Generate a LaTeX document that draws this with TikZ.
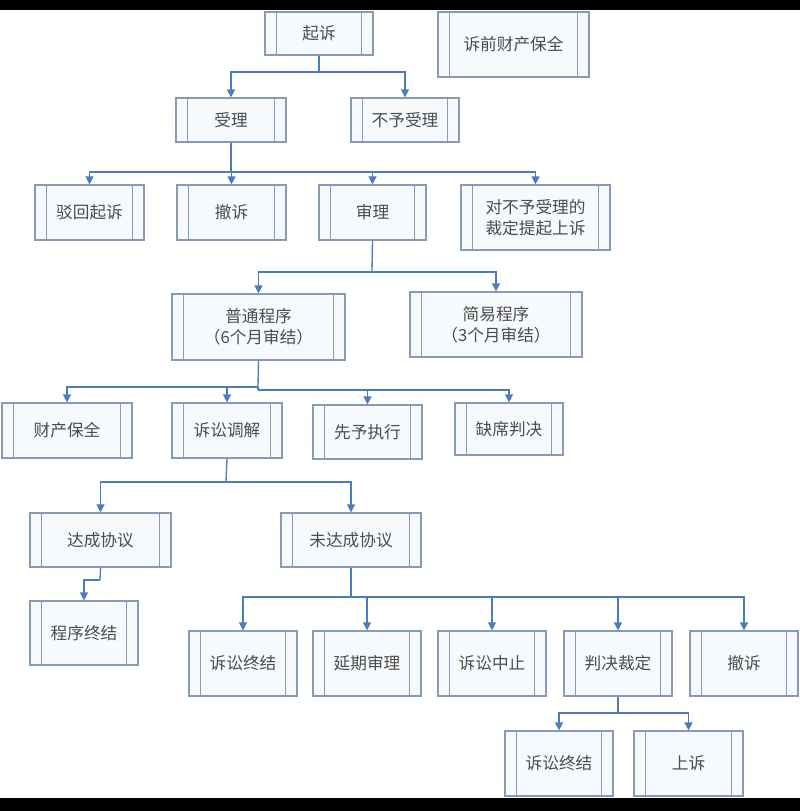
\documentclass[tikz,border=0pt]{standalone}
\usepackage{fontspec}
\setmainfont{Noto Sans CJK SC}
\definecolor{boxline}{RGB}{135,155,180}
\definecolor{arrowblue}{RGB}{75,125,190}
\definecolor{boxfill}{RGB}{247,250,253}
\tikzset{
  proc/.style={draw=boxline, line width=0.9pt, fill=boxfill, inner sep=0pt, align=center,
    font=\fontsize{12.5}{16}\selectfont\color{black!70},
    path picture={\draw[boxline, line width=0.8pt]
      ([xshift=8.5pt]path picture bounding box.north west) -- ([xshift=8.5pt]path picture bounding box.south west)
      ([xshift=-8.5pt]path picture bounding box.north east) -- ([xshift=-8.5pt]path picture bounding box.south east);}},
  conn/.style={draw=arrowblue, line width=1pt},
  arr/.style={conn, -{Triangle[width=6pt,length=6pt]}}
}
\usetikzlibrary{arrows.meta}
\newcommand{\pbox}[6]{\node[proc, minimum width={(#4-#2)*0.75pt}, minimum height={(#5-#3)*0.75pt}] (#1) at ({(#2+#4)/2},{(#3+#5)/2}) {#6};}
\begin{document}
\begin{tikzpicture}[x=0.75pt,y=0.75pt,yscale=-1,xscale=1]
  \useasboundingbox (0,0) rectangle (800,811);
  \fill[black] (0,0) rectangle (800,10);
  \fill[black] (0,798) rectangle (800,811);

  % boxes
  \pbox{qisu}{265}{12}{373}{55}{起诉}
  \pbox{baoquan}{438}{12}{589}{77}{诉前财产保全}
  \pbox{shouli}{176}{98}{286}{142}{受理}
  \pbox{bushouli}{351}{98}{459}{142}{不予受理}
  \pbox{bohui}{35}{185}{144}{240}{驳回起诉}
  \pbox{chesu}{177}{185}{286}{240}{撤诉}
  \pbox{shenli}{319}{185}{426}{240}{审理}
  \pbox{shangsu}{461}{185}{610}{250}{对不予受理的\\裁定提起上诉}
  \pbox{putong}{172}{294}{345}{360}{普通程序\\（6个月审结）}
  \pbox{jianyi}{410}{292}{582}{357}{简易程序\\（3个月审结）}
  \pbox{caichan}{2}{403}{132}{458}{财产保全}
  \pbox{tiaojie}{172}{403}{282}{458}{诉讼调解}
  \pbox{xianyu}{313}{405}{422}{459}{先予执行}
  \pbox{quexi}{455}{403}{563}{455}{缺席判决}
  \pbox{dacheng}{30}{513}{171}{567}{达成协议}
  \pbox{weida}{281}{513}{421}{567}{未达成协议}
  \pbox{zhongjie}{30}{601}{138}{665}{程序终结}
  \pbox{susongzj}{189}{631}{297}{696}{诉讼终结}
  \pbox{yanqi}{313}{631}{421}{696}{延期审理}
  \pbox{zhongzhi}{438}{631}{546}{696}{诉讼中止}
  \pbox{panjue}{564}{631}{672}{696}{判决裁定}
  \pbox{chesub}{690}{631}{798}{696}{撤诉}
  \pbox{zhongjieb}{505}{731}{613}{796}{诉讼终结}
  \pbox{shangsub}{634}{731}{743}{796}{上诉}

  % connectors
  \draw[conn] (qisu.south) -- (319,72) coordinate (b1);
  \draw[arr] (b1) -| (shouli.north);
  \draw[arr] (b1) -| (bushouli.north);
  \draw[conn] (shouli.south) -- (231,172) coordinate (b2);
  \foreach \n in {bohui,chesu,shenli,shangsu} \draw[arr] (b2) -| (\n.north);
  \draw[conn] (shenli.south) -- (372,272) coordinate (b3);
  \draw[arr] (b3) -| (putong.north);
  \draw[arr] (b3) -| (jianyi.north);
  \draw[conn] (putong.south) -- (258,387) coordinate (b4);
  \draw[arr] (b4) -| (caichan.north);
  \draw[arr] (b4) -| (tiaojie.north);
  \draw[conn] (b4) -- (258,390) coordinate (b5);
  \draw[arr] (b5) -| (xianyu.north);
  \draw[arr] (b5) -| (quexi.north);
  \draw[conn] (tiaojie.south) -- (226,482) coordinate (b6);
  \draw[arr] (b6) -| (dacheng.north);
  \draw[arr] (b6) -| (weida.north);
  \draw[conn] (dacheng.south) -- (100,580) coordinate (b7);
  \draw[arr] (b7) -| (zhongjie.north);
  \draw[conn] (weida.south) -- (351,597) coordinate (b8);
  \foreach \n in {susongzj,yanqi,zhongzhi,panjue,chesub} \draw[arr] (b8) -| (\n.north);
  \draw[conn] (panjue.south) -- (618,713) coordinate (b9);
  \draw[arr] (b9) -| (zhongjieb.north);
  \draw[arr] (b9) -| (shangsub.north);
\end{tikzpicture}
\end{document}
